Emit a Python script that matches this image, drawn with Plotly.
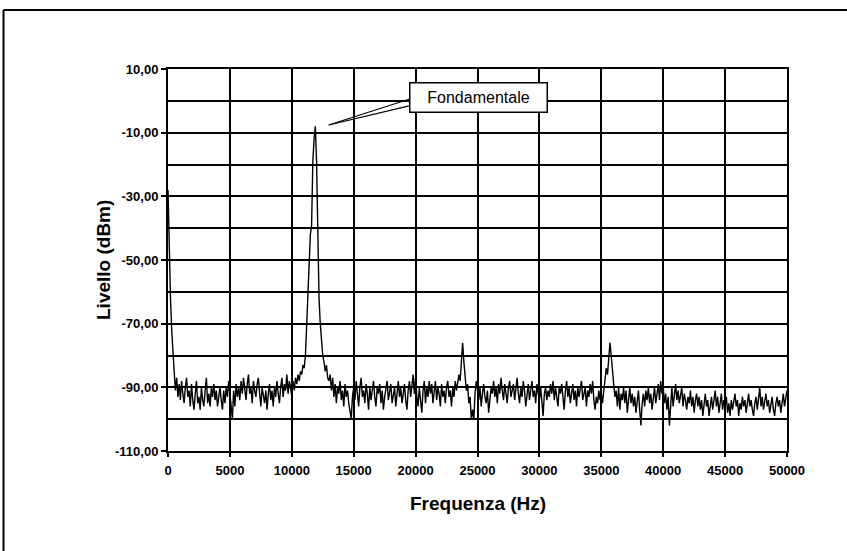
import plotly.graph_objects as go

# Frequency axis: 0 .. 50000 Hz, step 100 Hz
freq_step = 100
seg_0 = [-28, -48, -62, -72, -80, -85, -91, -87, -93, -89, -94, -88, -92, -95, -90, -87, -93, -91, -96, -89,
         -94, -97, -92, -88, -95, -93, -97, -90, -94, -96, -91, -87, -95, -92, -96, -90, -93, -89, -94, -91,
         -96, -92, -90, -94, -97, -91, -95, -90, -93, -88]
seg_5000 = [-92, -95, -100, -91, -96, -89, -93, -90, -94, -88, -92, -87, -91, -94, -89, -86, -92, -90, -95, -88,
            -91, -93, -89, -87, -92, -96, -90, -93, -95, -91, -97, -92, -89, -94, -91, -96, -90, -93, -88, -92,
            -95, -90, -87, -93, -89, -91, -86, -92, -88, -90]
seg_10000 = [-93, -88, -91, -87, -89, -86, -88, -85, -86, -83, -84, -80, -70, -62, -55, -42, -39, -19, -12, -8,
             -19, -44, -62, -70, -76, -80, -82, -85, -83, -87, -88, -86, -91, -87, -93, -89, -95, -90, -92, -88,
             -94, -91, -96, -89, -93, -91, -95, -97, -100, -93]
seg_15000 = [-90, -94, -88, -92, -96, -90, -87, -93, -91, -95, -89, -92, -97, -90, -94, -91, -88, -93, -96, -90,
             -92, -89, -95, -91, -97, -93, -90, -88, -94, -91, -89, -95, -92, -90, -96, -91, -88, -93, -90, -95,
             -92, -89, -94, -97, -91, -88, -93, -90, -86, -92]
seg_20000 = [-87, -93, -96, -90, -94, -98, -91, -88, -95, -90, -93, -88, -92, -89, -95, -91, -88, -94, -90, -92,
             -96, -89, -93, -91, -95, -90, -88, -93, -91, -96, -90, -93, -88, -91, -89, -86, -88, -81, -76, -82,
             -86, -91, -89, -95, -93, -100, -97, -100, -92, -88]
seg_25000 = [-91, -94, -90, -96, -92, -89, -93, -95, -91, -98, -94, -90, -92, -88, -93, -90, -95, -89, -92, -87,
             -91, -94, -89, -92, -95, -90, -88, -93, -91, -89, -94, -90, -87, -92, -95, -90, -93, -88, -91, -96,
             -92, -89, -94, -90, -88, -93, -91, -95, -89, -92]
seg_30000 = [-94, -90, -96, -99, -92, -90, -94, -91, -93, -89, -92, -88, -94, -90, -93, -96, -90, -92, -89, -94,
             -97, -91, -88, -93, -90, -95, -92, -89, -94, -91, -96, -90, -93, -91, -88, -94, -92, -90, -96, -91,
             -93, -89, -92, -88, -94, -97, -93, -95, -91, -94]
seg_35000 = [-92, -95, -91, -88, -84, -86, -80, -76, -80, -86, -89, -93, -91, -96, -90, -97, -92, -94, -90, -95,
             -91, -98, -93, -90, -95, -92, -96, -93, -98, -94, -91, -97, -102, -95, -92, -96, -91, -94, -90, -95,
             -92, -97, -93, -90, -95, -91, -89, -94, -88, -92]
seg_40000 = [-90, -95, -92, -97, -93, -102, -94, -90, -96, -92, -89, -94, -91, -95, -93, -90, -96, -92, -94, -97,
             -93, -95, -91, -96, -93, -98, -94, -92, -96, -93, -97, -94, -99, -95, -92, -96, -94, -99, -95, -93,
             -97, -94, -91, -96, -93, -98, -95, -92, -97, -94]
seg_45000 = [-96, -93, -98, -95, -99, -94, -97, -95, -92, -96, -94, -99, -95, -97, -93, -96, -94, -98, -95, -92,
             -96, -94, -97, -99, -95, -93, -97, -94, -90, -96, -93, -97, -95, -92, -96, -94, -98, -95, -93, -97,
             -99, -95, -93, -96, -94, -98, -95, -92, -96, -93, -91]

livello = seg_0 + seg_5000 + seg_10000 + seg_15000 + seg_20000 + seg_25000 + seg_30000 + seg_35000 + seg_40000 + seg_45000
frequenza = [i * freq_step for i in range(len(livello))]

y_tick_vals = [10, -10, -30, -50, -70, -90, -110]
y_tick_text = ["10,00", "-10,00", "-30,00", "-50,00", "-70,00", "-90,00", "-110,00"]
x_tick_vals = [0, 5000, 10000, 15000, 20000, 25000, 30000, 35000, 40000, 45000, 50000]
x_tick_text = [str(v) for v in x_tick_vals]

peak_label = "Fondamentale"
peak_point = (12980, -7.6)

fig = go.Figure()
fig.add_trace(go.Scatter(x=frequenza, y=livello, mode="lines",
                         line=dict(color="black", width=1.4), showlegend=False, hoverinfo="skip"))

font_fam = "Liberation Sans, Arial, sans-serif"
W, H = 847, 551
L, R, T, B = 168, 60, 69, 100
PW, PH = W - L - R, H - T - B

fig.update_layout(
    width=W, height=H,
    margin=dict(l=L, r=R, t=T, b=B),
    paper_bgcolor="white", plot_bgcolor="white",
    showlegend=False,
    font=dict(family=font_fam, color="black"),
    xaxis=dict(range=[0, 50000], tickvals=x_tick_vals, ticktext=x_tick_text,
               showgrid=True, gridcolor="black", gridwidth=2,
               ticks="outside", ticklen=4, tickwidth=2, tickcolor="black",
               showline=True, linecolor="black", linewidth=2, mirror=True,
               zeroline=False, ticklabelstandoff=2,
               tickfont=dict(size=13, family=font_fam, color="black", weight="bold"),
               fixedrange=True),
    yaxis=dict(range=[-110, 10], tickvals=y_tick_vals, ticktext=y_tick_text,
               showgrid=True, gridcolor="black", gridwidth=2,
               ticks="outside", ticklen=5, tickwidth=2, tickcolor="black",
               showline=True, linecolor="black", linewidth=2, mirror=True,
               zeroline=False,
               tickfont=dict(size=13, family=font_fam, color="black", weight="bold"),
               minor=dict(dtick=10, tick0=-110, showgrid=True, gridcolor="black", gridwidth=2, ticks=""),
               fixedrange=True),
)

# axis titles
fig.add_annotation(text="Frequenza (Hz)", xref="paper", yref="paper", x=0.5, y=(H - B - 503) / PH,
                   showarrow=False, font=dict(size=19, family=font_fam, weight="bold"),
                   xanchor="center", yanchor="middle")
fig.add_annotation(text="Livello (dBm)", xref="paper", yref="paper", x=(103 - L) / PW, y=(H - B - 260) / PH,
                   showarrow=False, textangle=-90, font=dict(size=19, family=font_fam, weight="bold"),
                   xanchor="center", yanchor="middle")

# callout pointer (wedge drawn as two thin lines)
for off in (-27, -20):
    fig.add_annotation(text="", x=peak_point[0], y=peak_point[1], xref="x", yref="y",
                       showarrow=True, arrowhead=0, arrowwidth=1.2, arrowcolor="black",
                       ax=84, ay=off)
# callout box
fig.add_annotation(text=peak_label, x=peak_point[0], y=peak_point[1], xref="x", yref="y",
                   showarrow=True, arrowhead=0, arrowwidth=0.1, arrowcolor="rgba(0,0,0,0)",
                   ax=150, ay=-28, bgcolor="white", bordercolor="black", borderwidth=1.5, borderpad=4,
                   width=128, height=20, align="center",
                   font=dict(size=16, family=font_fam, color="black"))

# outer frame: only top and left edges fall inside the picture
fx0, fy_top = (3.5 - L) / PW, (H - B - 10) / PH
fig.add_shape(type="line", xref="paper", yref="paper", x0=fx0, x1=(W - L) / PW, y0=fy_top, y1=fy_top,
              line=dict(color="black", width=2), layer="above")
fig.add_shape(type="line", xref="paper", yref="paper", x0=fx0, x1=fx0, y0=fy_top, y1=(H - B - H) / PH,
              line=dict(color="black", width=2), layer="above")

fig.write_html("out.html", config={"displayModeBar": False},
               post_script="document.body.style.margin='0';document.body.style.padding='0';"
                           "document.body.style.overflow='hidden';")
